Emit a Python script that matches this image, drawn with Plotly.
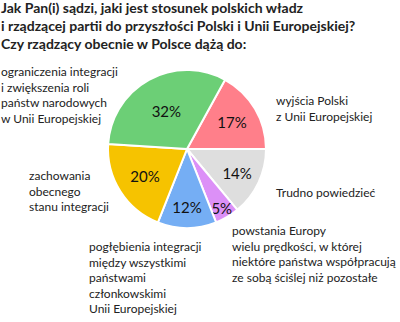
import plotly.graph_objects as go

# Survey answers, clockwise from the first slice
answers = [
    "wyjścia Polski<br>z Unii Europejskiej",
    "Trudno powiedzieć",
    "powstania Europy<br>wielu prędkości, w której<br>niektóre państwa współpracują<br>ze sobą ściślej niż pozostałe",
    "pogłębienia integracji<br>między wszystkimi<br>państwami<br>członkowskimi<br>Unii Europejskiej",
    "zachowania<br>obecnego<br>stanu integracji",
    "ograniczenia integracji<br>i zwiększenia roli<br>państw narodowych<br>w Unii Europejskiej",
]
shares = [17, 14, 5, 12, 20, 32]
slice_colors = ["#FF7F8A", "#DEDEDE", "#DC90F7", "#75AEF4", "#F6C300", "#6CCF76"]

title_lines = [
    "Jak Pan(i) sądzi, jaki jest stosunek polskich władz",
    "i rządzącej partii do przyszłości Polski i Unii Europejskiej?",
    "Czy rządzący obecnie w Polsce dążą do:",
]

W, H = 400, 322

# Where each answer's caption sits (pixel left edge, first-line top)
caption_xy = [
    (275, 92),
    (275, 184),
    (231, 222),
    (88, 238),
    (28, 167),
    (0, 63),
]

fig = go.Figure()
fig.add_trace(go.Pie(
    values=shares,
    labels=[a.replace("<br>", " ") for a in answers],
    marker=dict(colors=slice_colors, line=dict(color="white", width=2)),
    sort=False,
    direction="clockwise",
    rotation=28.8,
    texttemplate="%{value}%",
    textposition="inside",
    insidetextorientation="horizontal",
    textfont=dict(family="Lato", size=15, color="#111111"),
    hoverinfo="skip",
    showlegend=False,
    domain=dict(x=[108 / W, 266 / W], y=[1 - 228 / H, 1 - 70 / H]),
))

for text, (px, py) in zip(answers, caption_xy):
    fig.add_annotation(
        x=px / W, y=1 - py / H, xref="paper", yref="paper",
        xanchor="left", yanchor="top", align="left",
        text=text, showarrow=False,
        font=dict(family="Lato", size=12, color="#222222"),
        borderpad=0,
    )

fig.add_annotation(
    x=0, y=1, xref="paper", yref="paper",
    xanchor="left", yanchor="top", align="left",
    text="<br>".join(title_lines), showarrow=False,
    font=dict(family="Lato", size=14, color="#222222", weight="bold"),
    borderpad=0, yshift=2,
)

fig.update_layout(
    width=W, height=H,
    margin=dict(l=0, r=0, t=0, b=0),
    paper_bgcolor="white", plot_bgcolor="white",
    uniformtext=dict(minsize=15, mode="show"),
)

fig.write_html("out.html")
